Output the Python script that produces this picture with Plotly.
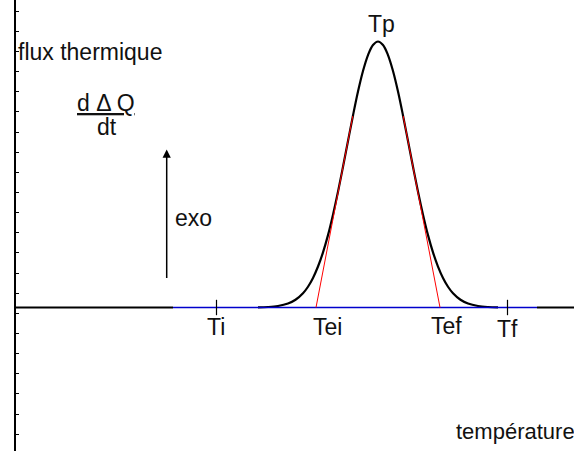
import plotly.graph_objects as go

# temperature (arbitrary units) and heat flux (arbitrary units, baseline 0, peak 100)
temps = [48.6, 50.6, 52.6, 54.6, 56.1, 57.6, 58.6, 59.6, 60.6, 61.6, 62.6, 63.6,
         64.6, 65.6, 66.6, 67.6, 68.6, 69.6, 70.6, 71.6, 72.6,
         73.6, 74.6, 75.6, 76.6, 77.6, 78.6, 79.6, 80.6, 81.6, 82.6, 83.6,
         84.6, 85.6, 86.6, 87.6, 89.1, 90.6, 92.6, 94.6, 96.6]
flux = [0.05, 0.18, 0.55, 1.48, 2.9, 5.36, 7.8, 11.1, 15.4, 20.7, 27.2, 34.9,
        43.5, 52.9, 62.6, 72.2, 81.2, 88.9, 94.9, 98.7, 100,
        98.7, 94.9, 88.9, 81.2, 72.2, 62.6, 52.9, 43.5, 34.9, 27.2, 20.7,
        15.4, 11.1, 7.8, 5.36, 2.9, 1.48, 0.55, 0.18, 0.05]

# temperature axis (black) outside the baseline, and blue baseline
axis_left_t = [0, 31.6]
axis_right_t = [104.4, 111.8]
baseline_t = [31.6, 104.4]
zero_v = [0, 0]

tangent_left_t = [60.2, 67.56]
tangent_left_v = [0, 72]
tangent_right_t = [85.0, 77.64]
tangent_right_v = [0, 72]

marker_t = [40.3, 98.5]          # Ti, Tf
marker_v = [0, 0]

labels = ["Ti", "Tei", "Tef", "Tf", "Tp"]
label_t = [40.2, 62.4, 86.2, 98.5, 73.2]
label_v = [-7.5, -7.5, -6.8, -8.1, 106.6]

x_range = [-3, 111.8]
y_range = [-53.95, 115.6]
axis_top = 100.3
tick_step = 6.89

FONT = "Liberation Sans, Arial, sans-serif"
TXT = "#111111"
FS = 23

fig = go.Figure()

# dummy trace to show the left (vertical) axis with ticks
fig.add_trace(go.Scatter(x=[None], y=[None], xaxis="x", yaxis="y2",
                         mode="lines", showlegend=False, hoverinfo="skip"))

for seg in (axis_left_t, axis_right_t):
    fig.add_trace(go.Scatter(x=seg, y=zero_v, mode="lines", line=dict(color="black", width=2.2),
                             showlegend=False, hoverinfo="skip"))
fig.add_trace(go.Scatter(x=temps, y=flux, mode="lines", line=dict(color="black", width=2.2),
                         line_shape="spline", showlegend=False, hoverinfo="skip"))
fig.add_trace(go.Scatter(x=baseline_t, y=zero_v, mode="lines",
                         line=dict(color="#0000cc", width=1.3), showlegend=False, hoverinfo="skip"))
fig.add_trace(go.Scatter(x=tangent_left_t, y=tangent_left_v, mode="lines",
                         line=dict(color="#ff0000", width=1), showlegend=False, hoverinfo="skip"))
fig.add_trace(go.Scatter(x=tangent_right_t, y=tangent_right_v, mode="lines",
                         line=dict(color="#ff0000", width=1), showlegend=False, hoverinfo="skip"))
fig.add_trace(go.Scatter(x=marker_t, y=marker_v, mode="markers",
                         marker=dict(symbol="line-ns", size=11, line=dict(color="black", width=1.2)),
                         showlegend=False, hoverinfo="skip"))

for lab, t, v in zip(labels, label_t, label_v):
    fig.add_annotation(x=t, y=v, text=lab, showarrow=False,
                       font=dict(family=FONT, size=FS, color=TXT))

fig.add_annotation(x=0.1, y=96.2, text="flux thermique", showarrow=False, xanchor="left",
                   font=dict(family=FONT, size=FS, color=TXT))
fig.add_annotation(x=18.2, y=76.9, text="<u>d \u0394 Q</u>", showarrow=False,
                   font=dict(family=FONT, size=FS, color=TXT))
fig.add_annotation(x=18.4, y=67.7, text="dt", showarrow=False,
                   font=dict(family=FONT, size=FS, color=TXT))
fig.add_annotation(x=35.6, y=33.5, text="exo", showarrow=False,
                   font=dict(family=FONT, size=FS, color=TXT))
fig.add_annotation(x=87.8, y=-46.6, text="température", showarrow=False, xanchor="left",
                   font=dict(family=FONT, size=22, color=TXT))
fig.add_annotation(x=30.34, y=59.4, ax=30.34, ay=10.5, axref="x", ayref="y",
                   text="", showarrow=True, arrowhead=2, arrowsize=1.1, arrowwidth=1.5,
                   arrowcolor="black")

fig.update_layout(
    width=574, height=451,
    margin=dict(l=0, r=0, t=0, b=0),
    paper_bgcolor="white", plot_bgcolor="white",
    xaxis=dict(range=x_range, visible=False, domain=[0, 1], fixedrange=True),
    yaxis=dict(range=y_range, visible=False, domain=[0, 1], fixedrange=True),
    yaxis2=dict(range=[y_range[0], axis_top], domain=[0, 410 / 451], overlaying="y",
                anchor="free", position=15 / 574, side="left",
                showline=True, linecolor="black", linewidth=1.6,
                ticks="inside", ticklen=3, tickwidth=1, tickcolor="black",
                tick0=0, dtick=tick_step, showticklabels=False,
                showgrid=False, zeroline=False, fixedrange=True),
    showlegend=False,
)

fig.write_html("out.html")
